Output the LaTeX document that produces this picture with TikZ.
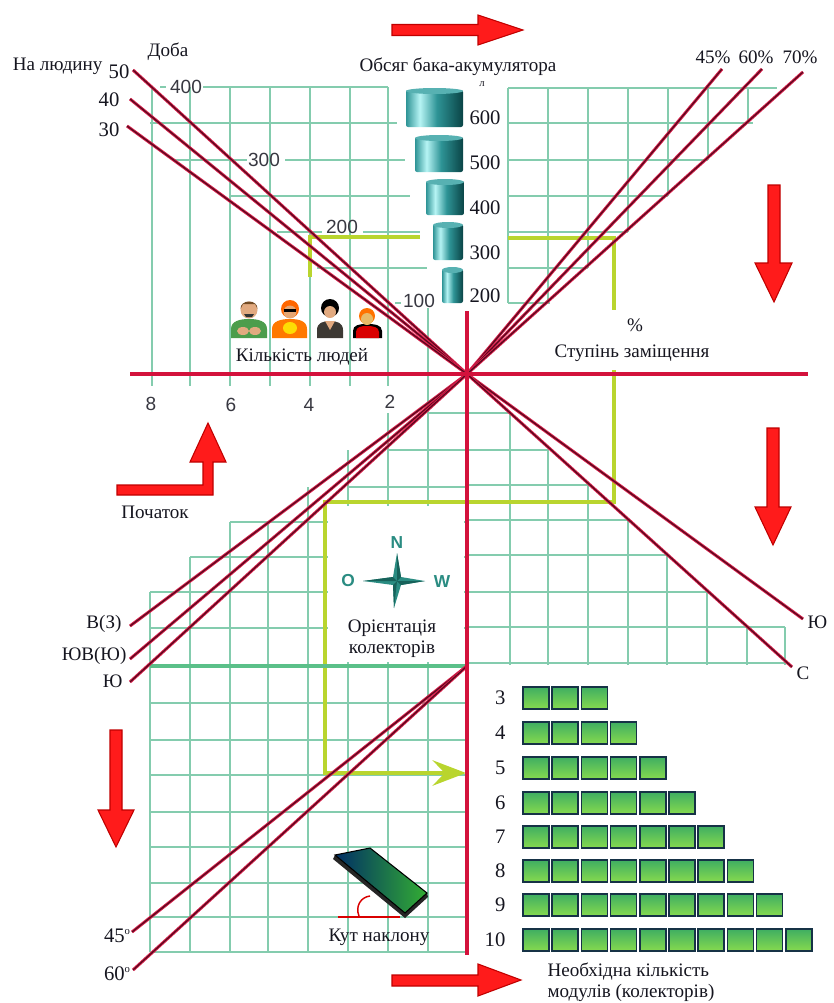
\documentclass[tikz,border=0pt]{standalone}
\usepackage{fontspec}
\setmainfont{Liberation Serif}
\newfontfamily\sansnum{Liberation Sans}
\usetikzlibrary{arrows.meta}

\definecolor{axisred}{HTML}{D3123C}
\definecolor{diagdark}{HTML}{560A1E}
\definecolor{diaglight}{HTML}{D81E4A}
\definecolor{gridc}{HTML}{84CCAE}
\definecolor{lime}{HTML}{B9D52E}
\definecolor{midgreen}{HTML}{5BC089}
\definecolor{arrred}{HTML}{FF1B1B}
\definecolor{arredge}{HTML}{C00000}
\definecolor{tankdark}{HTML}{0A4446}
\definecolor{tankmid}{HTML}{2E9496}
\definecolor{tanklight}{HTML}{B6F4F4}
\definecolor{modtop}{HTML}{3FAE62}
\definecolor{modbot}{HTML}{86DA4E}
\definecolor{modedge}{HTML}{163246}
\definecolor{compteal}{HTML}{2A8C82}
\definecolor{compdark}{HTML}{17625A}
\definecolor{skin}{HTML}{E2AA80}
\definecolor{inkc}{HTML}{15151F}

\newcommand\lblfont{\fontsize{14.3}{16}\selectfont}
\newcommand\bigfont{\fontsize{15.5}{17}\selectfont}
\newcommand\numfont{\sansnum\fontsize{14.3}{16}\selectfont}

\pgfdeclarehorizontalshading{tankshade}{100bp}{color(0bp)=(tankmid); color(25bp)=(tankmid); color(37bp)=(tanklight); color(52bp)=(tankmid); color(75bp)=(tankdark); color(100bp)=(tankdark)}

\begin{document}
\begin{tikzpicture}[x=0.75pt,y=-0.75pt,
  gridline/.style={draw=gridc,line width=0.8pt},
  axisline/.style={draw=axisred,line width=2.4pt},
  diagline/.style={draw=diagdark,line width=0.9pt,preaction={draw=diaglight,line width=2.3pt}},
  guide/.style={draw=lime,line width=3pt},
  lbl/.style={font=\lblfont,text=inkc,inner sep=1pt},
  big/.style={font=\bigfont,text=inkc,inner sep=1pt},
  num/.style={font=\numfont,text=inkc!85,inner sep=1pt},
  blockarrow/.style={fill=arrred,draw=arredge,line width=0.8pt,line join=miter},
  module/.style={draw=modedge,line width=1.3pt,top color=modtop,bottom color=modbot},
]
\useasboundingbox (0,0) rectangle (833,1003);

% ---------- grids ----------
% upper left field
\foreach \x in {152,190,230,270,310,350,388} \draw[gridline] (\x,87) -- (\x,386);
\draw[gridline] (428,308) -- (428,386);
\foreach \xa/\xb/\y in {203/388/87, 160/166/87, 150/397/123, 173/247/160, 285/405/160,
    230/410/196, 277/322/232, 363/420/232, 317/427/268, 395/401/303}
  \draw[gridline] (\xa,\y) -- (\xb,\y);
% upper right field
\foreach \x/\yb in {508/303,548/303,588/268,628/232,668/196,708/160,748/123}
  \draw[gridline] (\x,88) -- (\x,\yb);
\foreach \y/\xb in {88/777,123/753,160/708,196/668,232/628,268/588,303/550}
  \draw[gridline] (508,\y) -- (\xb,\y);
% lower right field
\foreach \y/\xb in {413/510,450/548,485/588,520/628,555/667,592/707,627/785,663/785}
  \draw[gridline] (467,\y) -- (\xb,\y);
\foreach \x/\ya in {510/413,548/450,588/485,628/520,667/555,707/592,747/627,785/627}
  \draw[gridline] (\x,\ya) -- (\x,665);
% lower left field
\foreach \y/\xa in {413/428,450/388,487/348,522/230,557/190,592/150,628/150,703/150,
    740/150,775/150,812/150,847/150,883/150,917/150,952/150}
  \draw[gridline] (\xa,\y) -- (467,\y);
\foreach \x/\ya in {150/592,190/557,230/522,268/522,308/487,348/450,388/413,428/386}
  \draw[gridline] (\x,\ya) -- (\x,952);
% blank panel for the compass
\fill[white] (328,506) rectangle (464,662);

% ---------- reading path ----------
\coordinate (g1) at (310,277); \coordinate (g2) at (310,237); \coordinate (g3) at (420,237);
\coordinate (g4) at (508,238); \coordinate (g5) at (614,238); \coordinate (g6) at (614,310);
\coordinate (g7) at (614,370); \coordinate (g8) at (614,502); \coordinate (g9) at (325,502);
\coordinate (g10) at (325,773); \coordinate (g11) at (466,773);
\draw[guide] (g1) -- (g2) -- (g3);
\draw[guide] (g4) -- (g5) -- (g6);
\draw[guide,-{Stealth[length=25pt,width=19pt,inset=9pt]}] (g7) -- (g8) -- (g9) -- (g10) -- (g11);
\coordinate (h1) at (150,666); \coordinate (T) at (467,666);
\draw[draw=midgreen,line width=3.4pt] (h1) -- (T);

% ---------- nomogram lines ----------
\coordinate (O) at (467,374);
\coordinate (p50) at (133,70); \coordinate (p40) at (130,99); \coordinate (p30) at (127,126);
\coordinate (q45) at (722,69); \coordinate (q60) at (762,69); \coordinate (q70) at (803,72);
\coordinate (oBZ) at (130,626); \coordinate (oSEU) at (130,659); \coordinate (oU) at (130,682);
\coordinate (oUr) at (803,619); \coordinate (oS) at (792,667);
\coordinate (a45) at (132,932); \coordinate (a60) at (133,970);
\foreach \e in {p50,p40,p30,q45,q60,q70,oBZ,oSEU,oU,oUr,oS} \draw[diagline] (O) -- (\e);
\draw[diagline] (T) -- (a45);
\draw[diagline] (T) -- (a60);

% axes
\coordinate (xl) at (130,374); \coordinate (xr) at (808,374);
\coordinate (yt) at (467,311); \coordinate (yb) at (467,955);
\draw[axisline] (xl) -- (xr);
\draw[axisline] (yt) -- (yb);

% ---------- block arrows ----------
\draw[blockarrow] (392,24.5) -- (478,24.5) -- (478,15) -- (523,30) -- (478,45) -- (478,35.5) -- (392,35.5) -- cycle;
\draw[blockarrow] (392,975) -- (478,975) -- (478,964) -- (521,980) -- (478,996) -- (478,986) -- (392,986) -- cycle;
\draw[blockarrow] (768,185) -- (768,263) -- (755,263) -- (774,302) -- (792,263) -- (780,263) -- (780,185) -- cycle;
\draw[blockarrow] (767,428) -- (767,507) -- (755,507) -- (773,545) -- (791,507) -- (779,507) -- (779,428) -- cycle;
\draw[blockarrow] (110,730) -- (110,810) -- (98,810) -- (116,847) -- (134,810) -- (122,810) -- (122,730) -- cycle;
\draw[blockarrow] (117,485) -- (203,485) -- (203,462) -- (190,462) -- (208,423) -- (226,462) -- (213,462) -- (213,495) -- (117,495) -- cycle;

% ---------- storage tanks ----------
\foreach \xa/\ya/\xb/\yb in {406/88/463/127, 415/135/463/172, 426/179/464/215, 433/222/463/260, 442/267/463/303}{
  \shade[shading=tankshade,rounded corners=1.5pt] (\xa,\ya+2) rectangle (\xb,\yb);
  \fill[tankmid!70!tanklight] ({(\xa+\xb)/2},\ya+3) ellipse [x radius={(\xb-\xa)/2}, y radius=3];
}

% ---------- people ----------
% man in green
\fill[green!45!black!70!white] (231,338) -- (231,329) .. controls (231,321) and (240,319) .. (249,319) .. controls (258,319) and (267,321) .. (267,329) -- (267,338) -- cycle;
\fill[skin] (249,310) circle[radius=8.5];
\fill[brown!60!black] (240.5,309) .. controls (240,299) and (258,299) .. (257.5,309) -- (255,304) -- (243,304) -- cycle;
\fill[black!80] (244,314) -- (254,314) -- (252,317) -- (246,317) -- cycle;
\fill[skin] (243,331) ellipse [x radius=6, y radius=4];
\fill[skin] (255,331) ellipse [x radius=6, y radius=4];
% woman in orange
\fill[orange!95!red] (272,338) -- (272,329) .. controls (272,321) and (281,319) .. (290,319) .. controls (299,319) and (307,321) .. (307,329) -- (307,338) -- cycle;
\fill[yellow!80!orange] (290,328) ellipse [x radius=7, y radius=6];
\fill[orange!80!red] (290,309) circle[radius=9];
\fill[skin!90!orange] (290,312) circle[radius=6.5];
\fill[black] (284,309) rectangle (296,312);
% woman with black hair
\fill[black!80!yellow!60!black] (317,338) -- (317,330) .. controls (317,323) and (323,321) .. (330,321) .. controls (337,321) and (343,323) .. (343,330) -- (343,338) -- cycle;
\fill[skin] (325,321) -- (335,321) -- (330,330) -- cycle;
\fill[black] (330,308) circle[radius=9];
\fill[skin] (330,312) circle[radius=6];
% child in red
\fill[black] (353,338) -- (353,331) .. controls (353,325) and (359,324) .. (367,324) .. controls (375,324) and (382,325) .. (382,331) -- (382,338) -- cycle;
\fill[red!85!black] (356,338) -- (356,332) .. controls (356,327) and (361,326) .. (367,326) .. controls (373,326) and (379,327) .. (379,332) -- (379,338) -- cycle;
\fill[orange!90!red] (367,316) circle[radius=8];
\fill[skin!80!yellow] (367,319) circle[radius=6];

% ---------- compass ----------
\fill[compteal] (397,553) -- (401,577) -- (425,581) -- (401,585) -- (394,608) -- (393,585) -- (363,581) -- (393,577) -- cycle;
\fill[compdark] (397,553) -- (401,577) -- (397,581) -- cycle;
\fill[compdark] (425,581) -- (401,585) -- (397,581) -- cycle;
\fill[compdark] (394,608) -- (393,585) -- (397,581) -- cycle;
\fill[compdark] (363,581) -- (393,577) -- (397,581) -- cycle;
\node[font=\sansnum\bfseries\fontsize{13}{13}\selectfont,text=compteal] (cN) at (397,543) {N};
\node[font=\sansnum\bfseries\fontsize{13}{13}\selectfont,text=compteal] (cO) at (348,581) {O};
\node[font=\sansnum\bfseries\fontsize{13}{13}\selectfont,text=compteal] (cW) at (442,582) {W};

% ---------- tilted collector ----------
\draw[red!85!black,line width=1.1pt] (338,917) -- (400,917);
\draw[red!85!black,line width=1.1pt] (359,916) .. controls (355,906) and (361,897) .. (370,896);
\fill[black!85] (335,855) -- (405,913) -- (405,918) -- (333,859) -- cycle;
\fill[black!85] (405,913) -- (427,893) -- (428,897) -- (405,918) -- cycle;
\shade[left color=black!70!green!60!blue, right color=green!60!black!80, draw=black, line width=0.8pt]
  (335,855) -- (370,848) -- (427,893) -- (405,913) -- cycle;

% ---------- modules ----------
\foreach \n/\y in {3/698,4/733,5/768,6/803,7/837,8/871,9/905,10/940}{
  \node[big,anchor=east] (m\n) at (507,\y) {\n};
  \foreach \k in {1,...,\n}
    \draw[module] ({523+29.2*(\k-1)},\y-11) rectangle ({549+29.2*(\k-1)},\y+11);
}

% ---------- labels ----------
\node[lbl,anchor=east] (tPer) at (104,66) {На людину};
\node[big,anchor=east] (t50) at (131,72) {50};
\node[big,anchor=east] (t40) at (121,100) {40};
\node[big,anchor=east] (t30) at (121,130) {30};
\node[lbl] (tDay) at (168,52) {Доба};
\node[num] (d400) at (186,87) {400};
\node[num] (d300) at (264,160) {300};
\node[num] (d200) at (342,227) {200};
\node[num] (d100) at (419,301) {100};
\node[lbl] (tVol) at (458,67) {Обсяг бака-акумулятора};
\node[lbl,font=\fontsize{8}{8}\selectfont] (tL) at (482,84) {л};
\node[big] (v600) at (485,118) {600};
\node[big] (v500) at (485,163) {500};
\node[big] (v400) at (485,208) {400};
\node[big] (v300) at (485,253) {300};
\node[big] (v200) at (485,296) {200};
\node[lbl] (t45) at (713,57) {45\%};
\node[lbl] (t60) at (756,57) {60\%};
\node[lbl] (t70) at (800,57) {70\%};
\node[lbl] (tPct) at (635,325) {\%};
\node[lbl] (tRep) at (632,353) {Ступінь заміщення};
\node[lbl] (tPeople) at (302,357) {Кількість людей};
\node[num] (n8) at (151,404) {8};
\node[num] (n6) at (231,405) {6};
\node[num] (n4) at (309,405) {4};
\node[num] (n2) at (390,402) {2};
\node[lbl] (tStart) at (155,512) {Початок};
\node[lbl,anchor=east] (tBZ) at (123,624) {В(З)};
\node[lbl,anchor=east] (tSEU) at (128,656) {ЮВ(Ю)};
\node[lbl,anchor=east] (tU) at (124,681) {Ю};
\node[lbl,anchor=west] (tUr) at (806,622) {Ю};
\node[lbl,anchor=west] (tS) at (795,673) {С};
\node[lbl,align=center] (tOr) at (392,639) {Орієнтація\\колекторів};
\node[lbl] (tTilt) at (379,937) {Кут наклону};
\node[big] (t45d) at (117,936) {45\raisebox{6pt}{\fontsize{8}{8}\selectfont o}};
\node[big] (t60d) at (117,974) {60\raisebox{6pt}{\fontsize{8}{8}\selectfont o}};
\node[lbl,anchor=west,align=left] (tMods) at (546,982) {Необхідна кількість\\модулів (колекторів)};
\end{tikzpicture}
\end{document}
